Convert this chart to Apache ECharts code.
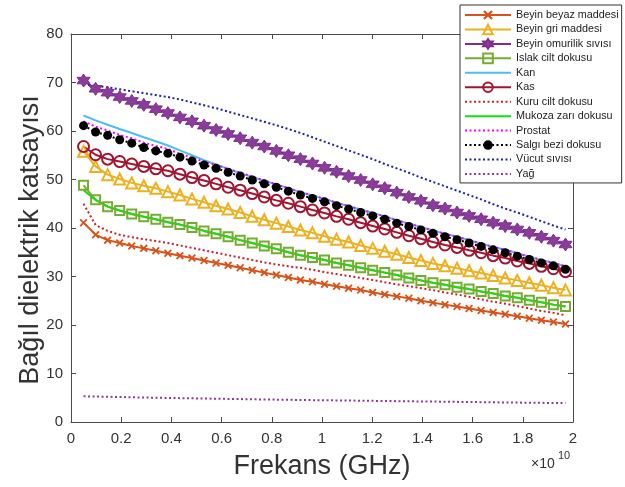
<!DOCTYPE html>
<html><head><meta charset="utf-8">
<script src="https://cdn.jsdelivr.net/npm/echarts@6/dist/echarts.min.js"></script>
<style>html,body{margin:0;padding:0;background:#fff}#c{width:625px;height:487px}</style>
</head><body><div id="c"></div><script>
// Frequency (x 10^10 Hz)
const freq = [0.050,0.098,0.146,0.194,0.242,0.290,0.338,0.386,0.434,0.482,0.530,0.578,0.626,0.674,0.722,0.770,0.818,0.866,0.914,0.962,1.010,1.058,1.106,1.154,1.202,1.250,1.298,1.346,1.394,1.442,1.490,1.538,1.586,1.634,1.682,1.730,1.778,1.826,1.874,1.922,1.970];
const xTicks = [0,0.2,0.4,0.6,0.8,1,1.2,1.4,1.6,1.8,2];
const yTicks = [0,10,20,30,40,50,60,70,80];

const beyinBeyaz = [41.1,38.6,37.5,36.9,36.3,35.8,35.3,34.8,34.3,33.8,33.3,32.8,32.3,31.8,31.3,30.8,30.3,29.8,29.3,28.9,28.4,28.0,27.6,27.2,26.7,26.3,25.9,25.5,25.0,24.6,24.2,23.8,23.4,23.0,22.6,22.2,21.8,21.4,21.0,20.6,20.2];
const beyinGri = [55.8,52.7,51.0,50.1,49.3,48.7,48.2,47.5,46.8,46.0,45.3,44.6,43.9,43.2,42.4,41.7,41.0,40.3,39.6,39.0,38.3,37.7,37.1,36.4,35.8,35.2,34.6,33.9,33.3,32.7,32.2,31.7,31.2,30.7,30.2,29.7,29.2,28.7,28.2,27.7,27.2];
const beyinOmurilik = [70.4,68.7,67.9,67.0,66.2,65.4,64.5,63.7,62.8,62.0,61.1,60.2,59.4,58.5,57.6,56.8,55.9,55.0,54.2,53.3,52.4,51.6,50.7,49.9,49.0,48.2,47.3,46.4,45.6,44.7,44.0,43.2,42.5,41.8,41.1,40.4,39.7,39.0,38.2,37.4,36.6];
const islakCilt = [48.8,45.8,44.4,43.6,42.9,42.3,41.8,41.2,40.7,40.1,39.4,38.8,38.2,37.5,36.9,36.3,35.7,35.0,34.4,33.9,33.4,32.8,32.3,31.8,31.3,30.8,30.3,29.7,29.2,28.7,28.3,27.8,27.4,26.9,26.5,26.0,25.6,25.1,24.7,24.2,23.8];
const kan = [63.2,62.2,61.3,60.4,59.6,58.7,57.9,57.0,56.0,55.0,54.0,53.1,52.2,51.3,50.5,49.7,49.0,48.2,47.4,46.7,46.0,45.2,44.5,43.8,43.1,42.4,41.6,40.9,40.2,39.5,38.8,38.2,37.5,36.8,36.1,35.5,34.8,34.1,33.4,32.8,32.1];
const kas = [56.8,55.1,54.2,53.7,53.2,52.7,52.2,51.8,51.1,50.4,49.8,49.1,48.4,47.8,47.1,46.4,45.7,45.1,44.4,43.7,43.1,42.4,41.8,41.1,40.4,39.8,39.1,38.4,37.8,37.1,36.5,36.0,35.4,34.9,34.3,33.8,33.2,32.7,32.1,31.6,31.0];
const kuruCilt = [45.0,40.6,39.4,38.6,38.1,37.7,37.3,36.9,36.4,35.9,35.4,34.9,34.4,33.9,33.4,32.9,32.5,32.1,31.8,31.4,30.9,30.5,30.1,29.7,29.3,28.8,28.4,28.0,27.6,27.2,26.7,26.3,25.8,25.3,24.8,24.4,23.9,23.4,22.9,22.5,22.0];
const mukozaZari = [47.8,45.8,44.4,43.6,42.9,42.3,41.8,41.2,40.7,40.1,39.4,38.8,38.2,37.5,36.9,36.3,35.7,35.0,34.4,33.9,33.4,32.8,32.3,31.8,31.3,30.8,30.3,29.7,29.2,28.7,28.3,27.8,27.4,26.9,26.5,26.0,25.6,25.1,24.7,24.2,23.8];
const prostat = [62.0,60.9,60.1,59.2,58.5,57.6,56.9,56.3,55.3,54.5,53.7,53.0,52.2,51.4,50.6,49.8,49.0,48.2,47.4,46.7,46.0,45.2,44.5,43.8,43.1,42.4,41.6,40.9,40.2,39.5,38.8,38.2,37.5,36.8,36.1,35.5,34.8,34.1,33.4,32.8,32.1];
const salgiBezi = [61.1,59.8,59.1,58.2,57.5,56.6,55.9,55.4,54.6,53.8,53.0,52.3,51.5,50.7,49.9,49.1,48.4,47.6,46.8,46.1,45.4,44.6,43.9,43.2,42.5,41.8,41.0,40.3,39.6,38.9,38.2,37.6,36.9,36.2,35.5,34.9,34.2,33.5,32.8,32.2,31.5];
const vucutSivisi = [69.6,69.3,69.0,68.6,68.2,67.8,67.4,67.0,66.5,65.9,65.3,64.7,64.0,63.3,62.6,61.9,61.2,60.4,59.6,58.7,57.8,56.9,56.0,55.1,54.2,53.2,52.3,51.4,50.4,49.5,48.6,47.7,46.8,45.9,44.9,44.0,43.2,42.3,41.4,40.5,39.7];
const yag = [5.30,5.25,5.20,5.15,5.10,5.05,5.00,4.96,4.92,4.88,4.84,4.80,4.76,4.72,4.68,4.65,4.61,4.58,4.54,4.51,4.48,4.45,4.42,4.39,4.36,4.33,4.30,4.27,4.24,4.21,4.18,4.15,4.12,4.09,4.06,4.03,4.00,3.98,3.95,3.92,3.90];

const FONT = "'Liberation Sans', Arial, Helvetica, sans-serif";
const AX = '#4a4a4a';
const XSYM = 'path://M0,1.6L1.6,0L5,3.4L8.4,0L10,1.6L6.6,5L10,8.4L8.4,10L5,6.6L1.6,10L0,8.4L3.4,5Z';
const HEX = 'path://M50,0L64.43,25L93.3,25L78.87,50L93.3,75L64.43,75L50,100L35.57,75L6.7,75L21.13,50L6.7,25L35.57,25Z';

function pairs(arr){ return freq.map((x,i)=>[x,arr[i]]); }

function mk(name, arr, color, opt){
  opt = opt || {};
  const s = {
    name: name, type: 'line', data: pairs(arr),
    xAxisIndex: 0, yAxisIndex: 0,
    lineStyle: {color: color, width: opt.width || 2, type: opt.dash ? [2,2.5] : 'solid'},
    symbol: opt.symbol || 'none',
    symbolSize: opt.size || 8,
    showSymbol: !!opt.symbol,
    itemStyle: {color: opt.fill || color, borderColor: color, borderWidth: opt.bw == null ? 0 : opt.bw},
    animation: false, silent: true
  };
  s._hasSym = !!opt.symbol;
  return s;
}

const series = [
  mk('Beyin beyaz maddesi', beyinBeyaz, '#D95319', {symbol: XSYM, size: 8}),
  mk('Beyin gri maddesi', beyinGri, '#EDB120', {symbol: 'triangle', size: 11, fill: 'rgba(255,255,255,0)', bw: 2}),
  mk('Beyin omurilik sıvısı', beyinOmurilik, '#7E2F8E', {symbol: HEX, size: 13, fill: '#8a3c9a', bw: 1}),
  mk('Islak cilt dokusu', islakCilt, '#77AC30', {symbol: 'rect', size: 9, fill: 'rgba(255,255,255,0)', bw: 2}),
  mk('Kan', kan, '#4DBEEE', {}),
  mk('Kas', kas, '#A2142F', {symbol: 'circle', size: 11, fill: 'rgba(255,255,255,0)', bw: 2}),
  mk('Kuru cilt dokusu', kuruCilt, '#D0202A', {dash: true}),
  mk('Mukoza zarı dokusu', mukozaZari, '#11E011', {}),
  mk('Prostat', prostat, '#FF00FF', {dash: true}),
  mk('Salgı bezi dokusu', salgiBezi, '#000000', {dash: true, symbol: 'circle', size: 9}),
  mk('Vücut sıvısı', vucutSivisi, '#1E22B0', {dash: true}),
  mk('Yağ', yag, '#8E3A9E', {dash: true})
];

const legendData = series.map(s => s._hasSym ? {name: s.name} : {name: s.name, itemStyle: {opacity: 0, color: 'rgba(0,0,0,0)', borderWidth: 0}});
series.forEach(s => delete s._hasSym);

const fmt = v => String(+(+v).toFixed(1));

const chart = echarts.init(document.getElementById('c'), null, {renderer: 'canvas'});
chart.setOption({
  backgroundColor: '#fff',
  animation: false,
  textStyle: {fontFamily: FONT},
  grid: {left: 71, right: 52, top: 34, bottom: 65, containLabel: false},
  xAxis: [{
    type: 'value', min: xTicks[0], max: xTicks[xTicks.length-1], interval: 0.2,
    position: 'bottom',
    axisLine: {show: true, onZero: false, lineStyle: {color: AX, width: 1}},
    axisTick: {show: true, inside: true, length: 5, lineStyle: {color: AX}},
    axisLabel: {color: '#333', fontSize: 15, margin: 9, fontFamily: FONT, formatter: fmt},
    splitLine: {show: false},
    name: 'Frekans (GHz)', nameLocation: 'middle', nameGap: 31,
    nameTextStyle: {fontSize: 27, color: '#333', fontFamily: FONT}
  },{
    type: 'value', min: xTicks[0], max: xTicks[xTicks.length-1], interval: 0.2,
    position: 'top',
    axisLine: {show: true, onZero: false, lineStyle: {color: AX, width: 1}},
    axisTick: {show: true, inside: true, length: 5, lineStyle: {color: AX}},
    axisLabel: {show: false}, splitLine: {show: false}
  }],
  yAxis: [{
    type: 'value', min: yTicks[0], max: yTicks[yTicks.length-1], interval: 10,
    position: 'left',
    axisLine: {show: true, onZero: false, lineStyle: {color: AX, width: 1}},
    axisTick: {show: true, inside: true, length: 5, lineStyle: {color: AX}},
    axisLabel: {color: '#333', fontSize: 15, margin: 8, fontFamily: FONT},
    splitLine: {show: false}
  },{
    type: 'value', min: yTicks[0], max: yTicks[yTicks.length-1], interval: 10,
    position: 'right',
    axisLine: {show: true, onZero: false, lineStyle: {color: AX, width: 1}},
    axisTick: {show: true, inside: true, length: 5, lineStyle: {color: AX}},
    axisLabel: {show: false}, splitLine: {show: false}
  }],
  legend: {
    orient: 'vertical', left: 460, top: 5,
    padding: [4, 3, 3, 4],
    itemWidth: 46, itemHeight: 12, itemGap: 2.45,
    backgroundColor: '#fff', borderColor: '#333', borderWidth: 1,
    textStyle: {fontSize: 10.8, color: '#222', fontFamily: FONT, lineHeight: 12},
    data: legendData
  },
  graphic: [
    {type: 'text', rotation: Math.PI/2, x: 31, y: 240,
     style: {text: 'Bağıl dielektrik katsayısı', font: '27px ' + FONT, fill: '#333', textAlign: 'center', textVerticalAlign: 'middle'}},
    {type: 'text', x: 531, y: 457,
     style: {text: '×10', font: '14px ' + FONT, fill: '#333'}},
    {type: 'text', x: 558, y: 450,
     style: {text: '10', font: '11px ' + FONT, fill: '#333'}}
  ],
  series: series
});
</script></body></html>
